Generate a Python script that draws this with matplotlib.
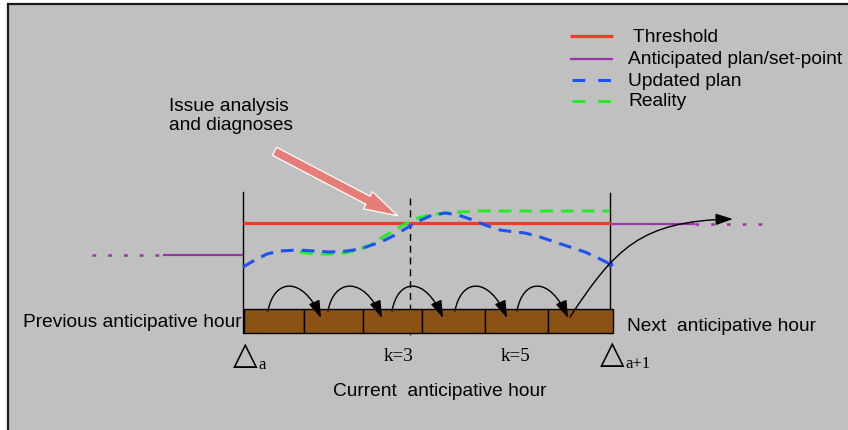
#!/usr/bin/env python3
# Anticipative-hour control diagram, drawn in pixel coordinates.

import matplotlib

matplotlib.use("Agg")
import matplotlib.pyplot as plt
from matplotlib.patches import Rectangle, FancyArrowPatch
from matplotlib.path import Path

plt.rcParams["font.family"] = ["Liberation Sans", "DejaVu Sans"]

W, H = 848, 431

# ---- data (pixel coordinates, y downward) ----
threshold_x = [243, 610]
threshold_y = [224, 224]

plan_left_x = [163, 243]
plan_left_y = [256, 256]
plan_left_dots_x = [92, 163]
plan_right_x = [610, 695]
plan_right_y = [225, 225]
plan_right_dots_x = [695, 767]

updated_x = [243, 255, 267, 280, 297, 315, 330, 347, 360, 372, 385, 395, 405,
             417, 430, 445, 458, 470, 485, 500, 515, 525, 540, 555, 570, 585,
             598, 610]
updated_y = [268, 261, 255, 252, 251, 252, 253, 252, 250, 246, 241, 236, 230,
             223, 217, 214, 216, 220, 226, 231, 233, 234, 238, 243, 248, 253,
             259, 265]

reality_x = [300, 315, 330, 345, 358, 370, 383, 395, 407, 418, 430, 445, 460,
             480, 510, 560, 610]
reality_y = [253, 255, 255, 254, 251, 246, 238, 231, 224, 219, 216, 214, 213,
             212, 212, 212, 212]

cell_edges = [244, 304, 363, 422, 485, 548, 613]
brick_top, brick_bottom = 310, 334

hop_start = [268, 328, 392, 455, 517]
hop_end = [321, 382, 443, 507, 568]

legend_labels = [" Threshold", "Anticipated plan/set-point", "Updated plan",
                 "Reality"]
legend_y = [37, 60, 81, 102]

RED = "#f23b2b"
PURPLE = "#9a35a6"
BLUE = "#1f52f2"
GREEN = "#27ea2a"
BRICK = "#8c5115"
SERIF = ["Liberation Serif", "DejaVu Serif"]
FS = 13.8

fig = plt.figure(figsize=(W / 100, H / 100), dpi=100)
ax = fig.add_axes([0, 0, 1, 1])
ax.set_xlim(0, W)
ax.set_ylim(H, 0)
ax.axis("off")

# gray panel, dark border only visible on top/left (rest runs off the canvas)
ax.add_patch(Rectangle((8, 5), W + 50, H + 50, facecolor="#c0c0c0",
                       edgecolor="#1a1a1a", lw=1.6, zorder=0))

# box walls and the dashed k=3 marker
ax.plot([243, 243], [193, 334], color="k", lw=1.0)
ax.plot([610, 610], [194, 334], color="k", lw=1.0)
ax.plot([410, 410], [199, 338], color="k", lw=1.0, ls=(0, (5, 3.5)))

# planned set-point and threshold
ax.plot(plan_left_x, plan_left_y, color=PURPLE, lw=1.6, solid_capstyle="butt")
ax.plot(plan_left_dots_x, plan_left_y, color=PURPLE, lw=1.8, ls=(0, (1.5, 4.8)))
ax.plot(plan_right_x, plan_right_y, color=PURPLE, lw=1.6, solid_capstyle="butt")
ax.plot(plan_right_dots_x, plan_right_y, color=PURPLE, lw=1.8, ls=(0, (1.5, 4.8)))
ax.plot(threshold_x, threshold_y, color=RED, lw=2.3, solid_capstyle="butt")

# reality and updated plan
ax.plot(reality_x, reality_y, color=GREEN, lw=2.2, ls=(0, (4.2, 2.6)))
ax.plot(updated_x, updated_y, color=BLUE, lw=2.2, ls=(0, (4.2, 2.6)))
ax.plot(updated_x[-1:], updated_y[-1:], "o", color=BLUE, ms=3)

# bricks
for left, right in zip(cell_edges[:-1], cell_edges[1:]):
    ax.add_patch(Rectangle((left, brick_top), right - left, brick_bottom - brick_top,
                           facecolor=BRICK, edgecolor="k", lw=1.0, zorder=3))

HOP_STYLE = "-|>,head_length=0.75,head_width=0.25"

# hop arrows between sub-steps
for s, e in zip(hop_start, hop_end):
    verts = [(s, 312), (s + 6, 279), (e - 18, 277), (e, 319)]
    path = Path(verts, [Path.MOVETO, Path.CURVE4, Path.CURVE4, Path.CURVE4])
    ax.add_patch(FancyArrowPatch(path=path, arrowstyle=HOP_STYLE,
                                 mutation_scale=14, color="k", lw=1.0, zorder=4))

# long arrow into the next anticipative hour
verts = [(570, 318), (615, 250), (640, 222), (733, 220)]
path = Path(verts, [Path.MOVETO, Path.CURVE4, Path.CURVE4, Path.CURVE4])
ax.add_patch(FancyArrowPatch(path=path, arrowstyle=HOP_STYLE,
                             mutation_scale=14, color="k", lw=1.0, zorder=4))

# issue-analysis pointer
ax.add_patch(FancyArrowPatch((272, 151), (400, 218),
                             arrowstyle="simple,head_length=2.4,head_width=1.4,tail_width=0.65",
                             mutation_scale=10, facecolor="#e77d78",
                             edgecolor="white", lw=0.9, zorder=5))
ax.text(169, 116, "Issue analysis\nand diagnoses", fontsize=FS, ha="left",
        va="center", linespacing=1.1)

# legend
ax.plot([570, 613], [legend_y[0]] * 2, color=RED, lw=2.3, solid_capstyle="butt")
ax.plot([570, 613], [legend_y[1]] * 2, color=PURPLE, lw=1.6, solid_capstyle="butt")
ax.plot([572, 613], [legend_y[2]] * 2, color=BLUE, lw=2.2, ls=(0, (4.2, 4.2)))
ax.plot([572, 613], [legend_y[3]] * 2, color=GREEN, lw=2.2, ls=(0, (4.2, 4.2)))
for lab, y in zip(legend_labels, legend_y):
    ax.text(628, y, lab, fontsize=FS, ha="left", va="center")

# hour labels
ax.text(242, 323, "Previous anticipative hour", fontsize=FS, ha="right",
        va="center")
ax.text(627, 327, "Next  anticipative hour", fontsize=FS, ha="left",
        va="center")
ax.text(440, 392, "Current  anticipative hour", fontsize=FS, ha="center",
        va="center")

# step markers (triangle + subscript)
ax.text(245, 356, "\u25b3", fontsize=23, family="DejaVu Sans",
        ha="center", va="center")
ax.text(258, 369, "a", fontsize=12, family=SERIF, ha="left", va="baseline")
ax.text(612, 355, "\u25b3", fontsize=23, family="DejaVu Sans",
        ha="center", va="center")
ax.text(625, 368, "a+1", fontsize=12, family=SERIF, ha="left", va="baseline")
ax.text(399, 361, "k=3", fontsize=FS, family=SERIF, ha="center", va="baseline")
ax.text(516, 361, "k=5", fontsize=FS, family=SERIF, ha="center", va="baseline")

fig.savefig("out.png", dpi=100)
